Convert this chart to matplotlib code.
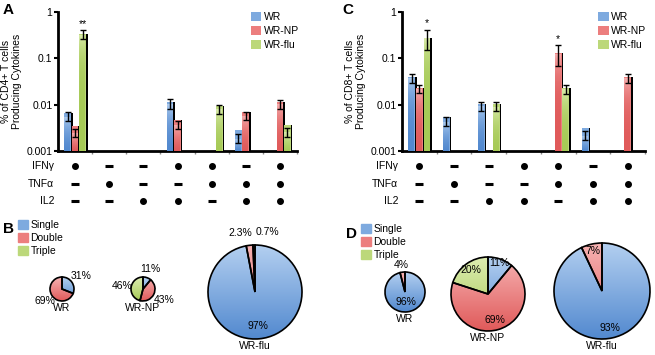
import numpy as np
import matplotlib
matplotlib.use('agg')
import matplotlib.pyplot as plt
from matplotlib.patches import Patch, Wedge
from matplotlib.colors import LinearSegmentedColormap
from matplotlib.transforms import blended_transform_factory

plt.rcParams['font.family'] = ['Liberation Sans', 'DejaVu Sans']
plt.rcParams['font.size'] = 7.5

nan = np.nan

series = ['WR', 'WR-NP', 'WR-flu']
colors = ['#7eaadf', '#ec7e7e', '#bcd87a']
# gradient ends (top, bottom) for the shaded fills
shade_top = ['#b3cff0', '#f6b2b2', '#dcecb0']
shade_bot = ['#5289cf', '#e05a5a', '#a6ca56']

# cytokine combination of each bar group (1 = positive, 0 = negative)
ifng = [1, 0, 0, 1, 1, 0, 1]
tnfa = [0, 1, 0, 0, 1, 1, 1]
il2 = [0, 0, 1, 1, 0, 1, 1]
row_names = ['IFN\u03b3', 'TNF\u03b1', 'IL2']

# panel A, CD4+ (nan = no bar)
cd4_wr = [0.0056, nan, nan, 0.0105, nan, 0.0019, nan]
cd4_wr_err = [0.0012, nan, nan, 0.0025, nan, 0.0004, nan]
cd4_np = [0.0025, nan, nan, 0.0037, nan, 0.0059, 0.0105]
cd4_np_err = [0.0005, nan, nan, 0.0007, nan, 0.0012, 0.0023]
cd4_flu = [0.33, nan, nan, nan, 0.0082, nan, 0.0026]
cd4_flu_err = [0.07, nan, nan, nan, 0.0018, nan, 0.0006]
cd4_sig = [(0, 2, '**')]

# panel C, CD8+
cd8_wr = [0.038, 0.0044, 0.0095, nan, nan, 0.0022, nan]
cd8_wr_err = [0.008, 0.0009, 0.0022, nan, nan, 0.0005, nan]
cd8_np = [0.022, nan, nan, nan, 0.13, nan, 0.038]
cd8_np_err = [0.004, nan, nan, nan, 0.06, nan, 0.008]
cd8_flu = [0.28, nan, 0.0093, nan, 0.022, nan, nan]
cd8_flu_err = [0.13, nan, 0.002, nan, 0.005, nan, nan]
cd8_sig = [(0, 2, '*'), (4, 1, '*')]

# pies: single / double / triple (%)
pie_classes = ['Single', 'Double', 'Triple']
pie_names = ['WR', 'WR-NP', 'WR-flu']
cd4_pies = [[31, 69, 0], [11, 43, 46], [97, 2.3, 0.7]]
cd8_pies = [[96, 4, 0], [11, 69, 20], [93, 7, 0]]

W, H = 655, 355
fig = plt.figure(figsize=(W / 100, H / 100), dpi=100)


def px_axes(l, t, r, b):
    return fig.add_axes([l / W, 1 - b / H, (r - l) / W, (b - t) / H])


def shade(ax, patch, k, extent):
    # vertical gradient clipped to a patch
    cmap = LinearSegmentedColormap.from_list('g%d' % k, [shade_bot[k], shade_top[k]])
    im = ax.imshow(np.linspace(0, 1, 100).reshape(-1, 1), cmap=cmap, origin='lower',
                   extent=extent, aspect='auto', interpolation='bilinear',
                   zorder=patch.get_zorder() + 0.01)
    im.set_clip_path(patch)


def bar_panel(ax, vals, errs, sig, ylabel):
    x = np.arange(len(ifng))
    offs = [-0.22, 0.0, 0.22]
    bw = 0.2
    for k in range(3):
        v = np.array(vals[k])
        e = np.array(errs[k])
        ok = ~np.isnan(v)
        xs = x[ok] + offs[k]
        # drop shadow on the right side
        ax.bar(xs + 0.045, v[ok], width=bw, bottom=0.001, color='black', zorder=2)
        bars = ax.bar(xs, v[ok], width=bw, bottom=0.001, color=colors[k], zorder=3,
                      label=series[k])
        for p, xi, vi in zip(bars.patches, xs, v[ok]):
            shade(ax, p, k, (xi - bw / 2, xi + bw / 2, 0.001, vi))
        ax.errorbar(xs, v[ok], yerr=e[ok], fmt='none', ecolor='black', elinewidth=1.0,
                    capsize=2, capthick=1.0, zorder=4)
    for g, k, s in sig:
        top = vals[k][g] + errs[k][g]
        ax.annotate(s, xy=(g + offs[k], top), xytext=(0, 1), textcoords='offset points',
                    ha='center', va='bottom', fontsize=7.5)
    ax.set_yscale('log')
    ax.set_ylim(0.001, 1)
    ax.set_xlim(-0.5, 6.5)
    ax.set_yticks([0.001, 0.01, 0.1, 1])
    ax.set_yticklabels(['0.001', '0.01', '0.1', '1'])
    ax.yaxis.set_minor_locator(matplotlib.ticker.NullLocator())
    ax.set_xticks(np.arange(0.5, 7, 1))
    ax.set_xticklabels([])
    ax.tick_params(axis='x', length=2, width=1, color='#888888')
    ax.tick_params(axis='y', length=3, width=1.5, labelsize=7.5, pad=1)
    for s in ['top', 'right']:
        ax.spines[s].set_visible(False)
    for s in ['left', 'bottom']:
        ax.spines[s].set_linewidth(2)
    ax.set_ylabel(ylabel, fontsize=7.5, labelpad=3, linespacing=1.1)
    ax.legend(loc='upper left', bbox_to_anchor=(0.79, 1.03), frameon=False, fontsize=7.5,
              handlelength=1.0, handleheight=1.0, handletextpad=0.2, labelspacing=0.35,
              borderaxespad=0)

    # cytokine matrix under the bars
    tr = blended_transform_factory(ax.transData, fig.transFigure)
    trl = blended_transform_factory(ax.transAxes, fig.transFigure)
    rows_y = [166, 184, 201]
    for name, row, yp in zip(row_names, [ifng, tnfa, il2], rows_y):
        yf = 1 - yp / H
        ax.text(-0.015, yf, name, transform=trl, ha='right', va='center', fontsize=7.5)
        for g, on in enumerate(row):
            if on:
                ax.plot(g, yf, 'o', color='black', ms=4, transform=tr, clip_on=False)
            else:
                ax.plot(g, yf, '_', color='black', ms=6, mew=2.2, transform=tr, clip_on=False)


axA = px_axes(58, 12, 297, 151)
bar_panel(axA, [cd4_wr, cd4_np, cd4_flu], [cd4_wr_err, cd4_np_err, cd4_flu_err], cd4_sig,
          '% of CD4+ T cells\nProducing Cytokines')
axC = px_axes(402, 12, 645, 151)
bar_panel(axC, [cd8_wr, cd8_np, cd8_flu], [cd8_wr_err, cd8_np_err, cd8_flu_err], cd8_sig,
          '% of CD8+ T cells\nProducing Cytokines')

# pies drawn on a pixel-unit overlay
pa = fig.add_axes([0, 0, 1, 1])

# layout: centre x, centre y (from top), radius, label distances, label alignment
cd4_layout = [(62, 289, 12, [1.9, 1.75, 0], ['center'] * 3),
              (143, 289, 12, [1.75, 2.0, 1.75], ['center'] * 3),
              (255, 292, 47, [0.72, 1.27, 1.27], ['center', 'right', 'left'])]
cd8_layout = [(405, 292, 20, [0.5, 1.35, 0], ['center'] * 3),
              (488, 294, 37, [0.88, 0.72, 0.8], ['center'] * 3),
              (602, 291, 48, [0.8, 0.85, 0], ['center'] * 3)]


def draw_pies(pies, layout):
    for name, fr, (cx, cy, r, dist, has) in zip(pie_names, pies, layout):
        cy = H - cy
        idx = [i for i, f in enumerate(fr) if f > 0]
        wedges, _ = pa.pie([fr[i] for i in idx], colors=[colors[i] for i in idx],
                           center=(cx, cy), radius=r, startangle=90, counterclock=False,
                           wedgeprops=dict(linewidth=0))
        for w, i in zip(wedges, idx):
            shade(pa, w, i, (cx - r, cx + r, cy - r, cy + r))
            pa.add_patch(Wedge((cx, cy), r, w.theta1, w.theta2, fill=False,
                               ec='black', lw=1.2, zorder=w.get_zorder() + 0.1))
            ang = np.deg2rad((w.theta1 + w.theta2) / 2)
            tx = cx + r * dist[i] * np.cos(ang)
            ty = cy + r * dist[i] * np.sin(ang)
            if has[i] == 'right':
                tx += 4
            elif has[i] == 'left':
                tx += 2
            pa.text(tx, ty, '%g%%' % fr[i], ha=has[i], va='center', fontsize=7.5, zorder=5)
        pa.text(cx, cy - r - 2, name, ha='center', va='top', fontsize=7.5)


draw_pies(cd4_pies, cd4_layout)
draw_pies(cd8_pies, cd8_layout)
pa.set_xlim(0, W)
pa.set_ylim(0, H)
pa.set_aspect('equal')
pa.axis('off')

handles = [Patch(color=c) for c in colors]
for x0, y0 in [(18, 220), (361, 224)]:
    fig.legend(handles, pie_classes, loc='upper left', bbox_to_anchor=(x0 / W, 1 - y0 / H),
               frameon=False, fontsize=7.5, handlelength=1.0, handleheight=1.0,
               handletextpad=0.2, labelspacing=0.25, borderaxespad=0, borderpad=0)

for lab, x0, y0 in [('A', 3, 3), ('C', 342, 3), ('B', 3, 222), ('D', 346, 227)]:
    fig.text(x0 / W, 1 - y0 / H, lab, fontsize=11, fontweight='bold', ha='left', va='top')

fig.savefig('out.png', dpi=100)
